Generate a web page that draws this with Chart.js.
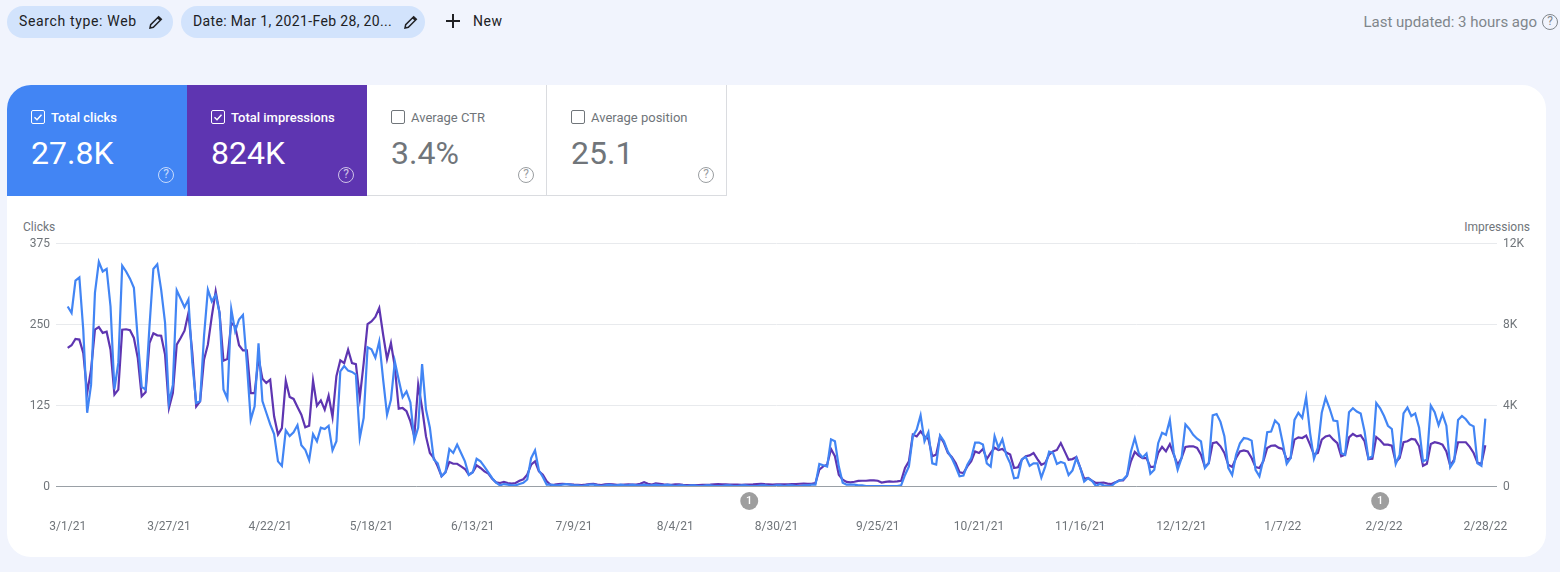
<!DOCTYPE html>
<html>
<head>
<meta charset="utf-8">
<title>Search performance</title>
<script src="https://cdn.jsdelivr.net/npm/chart.js@4"></script>
<style>
  html, body { margin: 0; padding: 0; }
  body { width: 1560px; height: 572px; background: #f1f4fd; font-family: Roboto, sans-serif; position: relative; overflow: hidden; color: #3c4043; }
  .chip { position: absolute; top: 6px; height: 32px; border-radius: 16px; background: #d2e3fc; font-size: 14px; line-height: 31px; letter-spacing: .35px; color: #202124; box-sizing: border-box; padding-left: 12px; white-space: nowrap; }
  .chip svg { position: absolute; top: 8px; }
  #new { position: absolute; left: 473px; top: 13px; font-size: 14px; font-weight: 400; letter-spacing: .6px; color: #202124; }
  #plus { position: absolute; left: 445px; top: 13px; }
  #updated { position: absolute; right: 23px; top: 13px; font-size: 15px; color: #80868b; }
  .help { position: absolute; width: 16px; height: 16px; border-radius: 50%; border: 1.5px solid currentColor; box-sizing: border-box; font-size: 12px; line-height: 13px; text-align: center; }
  #card { position: absolute; left: 7px; top: 85px; width: 1539px; height: 472px; background: #fff; border-radius: 24px; overflow: hidden; }
  .tile { position: absolute; top: 0; width: 180px; height: 111px; box-sizing: border-box; color: #fff; }
  .tile.off { color: #70757a; border-right: 1px solid #dadce0; border-bottom: 1px solid #dadce0; }
  .tile .box { position: absolute; left: 24px; top: 25px; width: 14px; height: 14px; border: 1px solid currentColor; border-radius: 2px; box-sizing: border-box; }
  .tile .box svg { position: absolute; left: 0; top: 0; }
  .tile .name { position: absolute; left: 44px; top: 25px; font-size: 13px; line-height: 16px; white-space: nowrap; }
  .tile .val { position: absolute; left: 24px; top: 48px; font-size: 32px; line-height: 40px; white-space: nowrap; }
  .tile .help { left: 151px; top: 82px; opacity: .7; }
  .axis-title { position: absolute; top: 220px; font-size: 12px; color: #70757a; }
  #chart-wrap { position: absolute; left: 0; top: 200px; width: 1560px; height: 372px; }
</style>
</head>
<body>
<div class="chip" style="left:7px;width:166px;letter-spacing:.65px">Search type: Web
  <svg style="left:141px" width="16" height="16" viewBox="0 0 24 24"><path d="M3 21l1-5L16 4l4 4L8 20z M14.5 5.5l4 4" fill="none" stroke="#202124" stroke-width="2.2"/></svg>
</div>
<div class="chip" style="left:181px;width:244px">Date: Mar 1, 2021-Feb 28, 20...
  <svg style="left:222px" width="16" height="16" viewBox="0 0 24 24"><path d="M3 21l1-5L16 4l4 4L8 20z M14.5 5.5l4 4" fill="none" stroke="#202124" stroke-width="2.2"/></svg>
</div>
<svg id="plus" width="16" height="16" viewBox="0 0 16 16"><path d="M8 1v14M1 8h14" stroke="#202124" stroke-width="2"/></svg>
<div id="new">New</div>
<div id="updated">Last updated: 3 hours ago</div>
<div class="help" style="left:1542px;top:14px;color:#80868b">?</div>

<div id="card">
  <div class="tile" style="left:0;background:#4285f4">
    <div class="box"><svg width="12" height="12" viewBox="0 0 12 12"><path d="M2.5 6.2l2.5 2.5 4.5-5" fill="none" stroke="#fff" stroke-width="1.4"/></svg></div>
    <div class="name" style="font-weight:500">Total clicks</div>
    <div class="val">27.8K</div>
    <div class="help">?</div>
  </div>
  <div class="tile" style="left:180px;background:#5e35b1">
    <div class="box"><svg width="12" height="12" viewBox="0 0 12 12"><path d="M2.5 6.2l2.5 2.5 4.5-5" fill="none" stroke="#fff" stroke-width="1.4"/></svg></div>
    <div class="name" style="font-weight:500">Total impressions</div>
    <div class="val">824K</div>
    <div class="help">?</div>
  </div>
  <div class="tile off" style="left:360px">
    <div class="box"></div>
    <div class="name">Average CTR</div>
    <div class="val">3.4%</div>
    <div class="help">?</div>
  </div>
  <div class="tile off" style="left:540px">
    <div class="box"></div>
    <div class="name">Average position</div>
    <div class="val">25.1</div>
    <div class="help">?</div>
  </div>
</div>

<div class="axis-title" style="left:23px">Clicks</div>
<div class="axis-title" style="right:30px">Impressions</div>
<div id="chart-wrap"><canvas id="chart"></canvas></div>

<script>
const xTickLabels = ['3/1/21', '3/27/21', '4/22/21', '5/18/21', '6/13/21', '7/9/21', '8/4/21', '8/30/21',
  '9/25/21', '10/21/21', '11/16/21', '12/12/21', '1/7/22', '2/2/22', '2/28/22'];
const clickTicks = [0, 125, 250, 375];
const impressionTicks = [0, 4000, 8000, 12000];
// days (from 3/1/21) that carry a numbered annotation under the axis
const annotationDays = [175, 337];

// one value per day, 3/1/21 to 2/28/22
const clicks = [
  277,267,317,322,241,113,156,298,346,331,
  335,277,149,190,340,331,320,306,226,153,
  149,246,335,342,303,252,128,156,302,289,
  276,288,190,128,131,231,303,285,295,267,
  149,135,273,239,257,264,190,102,123,220,
  131,113,95,80,38,31,86,77,83,94,
  63,56,40,80,69,90,88,93,55,69,
  177,185,178,176,172,74,105,214,211,198,
  223,164,110,133,192,164,137,146,129,70,
  90,188,118,90,41,35,15,21,57,51,
  64,51,38,17,21,42,38,30,21,12,
  5,1,3,2,1,1,3,5,10,43,
  55,24,14,2,2,1,1,2,3,2,
  1,1,0,1,2,2,1,0,1,2,
  1,1,2,1,1,2,1,1,2,1,
  1,2,1,1,2,1,0,1,1,0,
  1,1,0,0,1,1,0,0,0,1,
  1,0,0,1,1,0,0,0,1,1,
  0,0,1,1,0,1,1,0,0,1,
  1,2,2,34,32,30,72,69,30,5,
  2,2,2,1,1,0,0,0,0,0,
  0,0,0,0,1,17,30,77,87,109,
  69,83,35,33,78,69,53,43,30,15,
  16,33,43,67,67,64,35,30,77,59,
  72,48,35,12,13,41,45,31,35,35,
  13,30,53,51,34,37,35,17,24,43,
  28,7,12,8,0,3,1,0,0,5,
  8,10,16,53,74,51,44,50,19,25,
  66,82,79,102,51,25,43,95,88,79,
  73,69,28,35,109,111,99,77,28,17,
  48,66,74,73,70,25,15,41,83,84,
  101,95,66,34,43,102,113,105,137,82,
  42,59,113,136,120,101,100,51,48,114,
  120,115,112,84,42,46,128,120,108,93,
  88,34,48,112,121,108,112,90,38,41,
  124,114,94,111,93,29,38,102,108,103,
  95,92,35,31,104
];
const impressions = [
  6820,6950,7260,7230,6570,4590,5750,7720,7850,7560,
  7620,6730,4510,4760,7720,7740,7690,7310,6320,4430,
  4630,7060,7540,7440,7420,6490,3850,4590,6980,7310,
  7670,8540,6570,3930,4180,6240,6980,8380,9610,8540,
  6190,6270,8050,7880,6950,6700,6700,4590,4590,6320,
  5300,5090,5250,3440,2540,2860,5200,4400,4300,3900,
  3520,2900,2980,5200,3970,4230,3770,4460,3410,5420,
  6210,6070,6730,6070,6020,4350,6070,8000,8130,8350,
  8790,7470,6270,7060,5880,3820,3850,3690,3190,2450,
  5000,3850,2450,1630,1380,970,480,680,1190,1100,
  1100,970,840,560,680,1020,890,720,610,360,
  180,150,200,150,120,150,260,330,560,1050,
  1220,720,560,230,60,70,90,110,100,85,
  70,60,50,70,100,110,70,45,80,95,
  85,60,55,70,80,75,70,110,190,110,
  75,135,110,80,70,60,85,80,60,50,
  50,50,50,55,60,70,85,90,85,80,
  75,70,65,60,65,70,80,100,110,90,
  85,75,80,85,85,80,90,100,110,115,
  110,110,150,810,970,1050,1830,1470,560,310,
  200,180,210,250,260,260,280,280,260,170,
  200,230,210,230,260,890,1220,2540,2450,2700,
  2450,2320,1470,1550,2450,2120,1630,1430,1140,680,
  640,970,1220,1710,1630,1830,1330,1630,1890,1780,
  1830,1650,1550,890,920,1300,1470,1510,1630,1330,
  1050,1140,1550,1710,1780,2120,1710,1300,1330,1430,
  890,360,400,260,150,150,170,120,100,180,
  280,280,510,1220,1680,1500,1380,1380,940,940,
  1630,1930,1710,2070,1550,1050,1380,1930,1960,1960,
  1880,1550,940,1140,2120,2160,1960,1630,1050,940,
  1380,1710,1760,1710,1380,940,890,1220,1880,1990,
  2010,1880,1830,1300,1380,2290,2400,2370,2490,2040,
  1550,1630,2290,2450,2500,2290,2120,1470,1550,2400,
  2570,2450,2500,2210,1330,1350,2420,2260,2040,2040,
  1990,1170,1380,2160,2210,2320,2290,1960,1000,1100,
  2070,2160,2120,2040,1710,1000,1300,2160,2160,2160,
  1930,1630,1140,1100,2010
];

const tickFont = { family: 'Roboto, sans-serif', size: 12 };
const tickColor = '#70757a';

// grey numbered circles under the x axis
const annotations = {
  id: 'annotations',
  afterDraw(chart) {
    const { ctx, scales } = chart;
    const y = scales.yClicks.bottom + 15;
    ctx.save();
    for (const day of annotationDays) {
      const x = scales.x.getPixelForValue(day);
      ctx.fillStyle = '#9e9e9e';
      ctx.beginPath();
      ctx.arc(x, y, 9, 0, Math.PI * 2);
      ctx.fill();
      ctx.fillStyle = '#fff';
      ctx.font = '500 11px Roboto, sans-serif';
      ctx.textAlign = 'center';
      ctx.textBaseline = 'middle';
      ctx.fillText('1', x, y + 0.5);
    }
    ctx.restore();
  }
};

new Chart(document.getElementById('chart'), {
  type: 'line',
  data: {
    datasets: [
      { label: 'Clicks', data: clicks.map((y, x) => ({ x, y })), yAxisID: 'yClicks', borderColor: '#4285f4', borderWidth: 2.2, pointRadius: 0, tension: 0 },
      { label: 'Impressions', data: impressions.map((y, x) => ({ x, y })), yAxisID: 'yImpressions', borderColor: '#5e35b1', borderWidth: 2.2, pointRadius: 0, tension: 0 }
    ]
  },
  options: {
    responsive: true,
    maintainAspectRatio: false,
    animation: false,
    layout: { padding: { top: 43 } },
    plugins: { legend: { display: false }, tooltip: { enabled: false } },
    scales: {
      x: {
        type: 'linear',
        min: -3,
        max: 367,
        afterBuildTicks(axis) { axis.ticks = xTickLabels.map((_, i) => ({ value: i * 26 })); },
        afterFit(axis) { axis.height = 86; },
        ticks: {
          autoSkip: false,
          maxRotation: 0,
          padding: 26,
          color: tickColor,
          font: tickFont,
          callback: v => xTickLabels[v / 26]
        },
        grid: { display: false },
        border: { display: false }
      },
      yClicks: {
        position: 'left',
        min: 0,
        max: 375,
        afterBuildTicks(axis) { axis.ticks = clickTicks.map(value => ({ value })); },
        afterFit(axis) { axis.width = 56; },
        ticks: { color: tickColor, font: tickFont, padding: 6, labelOffset: 1 },
        grid: {
          drawTicks: false,
          color: c => c.tick.value === 0 ? '#9aa0a6' : '#e8eaed'
        },
        border: { display: false }
      },
      yImpressions: {
        position: 'right',
        min: 0,
        max: 12000,
        afterBuildTicks(axis) { axis.ticks = impressionTicks.map(value => ({ value })); },
        afterFit(axis) { axis.width = 63; },
        ticks: {
          color: tickColor,
          font: tickFont,
          padding: 6,
          labelOffset: 1,
          callback: v => v === 0 ? '0' : (v / 1000) + 'K'
        },
        grid: { display: false, drawTicks: false },
        border: { display: false }
      }
    }
  },
  plugins: [annotations]
});
</script>
</body>
</html>
